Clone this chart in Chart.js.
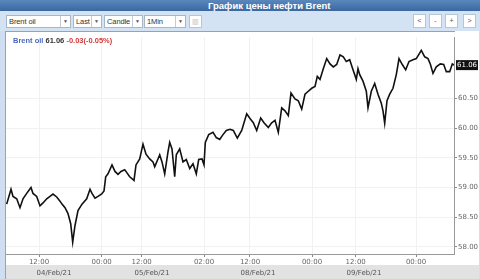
<!DOCTYPE html>
<html>
<head>
<meta charset="utf-8">
<script src="https://cdn.jsdelivr.net/npm/chart.js@4/dist/chart.umd.min.js"></script>
<style>
  html, body { margin: 0; padding: 0; }
  body { width: 480px; height: 279px; overflow: hidden; background: #cfdff1; position: relative;
         font-family: "Liberation Sans", Arial, sans-serif; }
  #title { position: absolute; left: 0; top: 0; width: 480px; height: 11px;
           background: linear-gradient(#5a88bd, #3a689f); color: #fff; font-weight: bold;
           font-size: 9.5px; line-height: 11px; }
  #title span { position: absolute; left: 208px; white-space: nowrap; }
  #bar { position: absolute; left: 0; top: 11px; width: 480px; height: 20px; background: #d3e3f4; }
  .sel { position: absolute; top: 4px; height: 13px; background: #fff; border: 1px solid #a9b6c4;
         font-size: 7.5px; line-height: 12px; color: #333; box-sizing: border-box; padding-left: 2px;
         letter-spacing: -0.1px; white-space: nowrap; }
  .sel i { position: absolute; right: 0; top: 0; height: 11px; width: 9px; border-left: 1px solid #c3ccd6;
           background: #fff; font-style: normal; font-size: 5px; text-align: center; line-height: 11px; color: #555; }
  .btn { position: absolute; top: 3px; height: 14px; width: 13px; background: #fff; border: 1px solid #b9c5d2;
         box-sizing: border-box; font-size: 7px; line-height: 12px; text-align: center; color: #555; }
  #frame { position: absolute; left: 5px; top: 31px; width: 473px; height: 248px; background: #fff;
           border-left: 1px solid #9aa3ad; }
  #topline { position: absolute; left: 0; top: 0; width: 449px; height: 1px; background: #9aa3ad; }
  #band { position: absolute; left: 0; top: 234px; width: 473px; height: 14px; background: #e2e2e2; }
  #wrap { position: absolute; left: 0; top: 1px; width: 473px; height: 247px; }
  #info { position: absolute; left: 7px; top: 5px; font-size: 7.5px; font-weight: bold; white-space: nowrap; }
</style>
</head>
<body>
<div id="title"><span>График цены нефти Brent</span></div>
<div id="bar">
  <div class="sel" style="left:6px;width:65px">Brent oil<i>▼</i></div>
  <div class="sel" style="left:73px;width:29px">Last<i>▼</i></div>
  <div class="sel" style="left:104px;width:39px">Candle<i>▼</i></div>
  <div class="sel" style="left:144px;width:42px">1Min<i>▼</i></div>
  <div class="btn" style="left:189px;top:4px;height:13px;color:#bbb">▥</div>
  <div class="btn" style="left:413px">&lt;</div>
  <div class="btn" style="left:429px">-</div>
  <div class="btn" style="left:445px">+</div>
  <div class="btn" style="left:463px">&gt;</div>
</div>
<div id="frame">
  <div id="band"></div>
  <div id="wrap"><canvas id="c"></canvas></div>
  <div id="topline"></div>
  <div id="info"><span style="color:#4a68c0">Brent oil</span> <span style="color:#333">61.06</span> <span style="color:#d23a3a">-0.03(-0.05%)</span></div>
</div>
<script>
// bar position in the feed (gaps removed) and price
const slots = [
  0.7, 5, 7, 10.7, 14, 17, 20.7, 25, 27, 30.7, 34, 37,
  40.7, 44, 47, 50.7, 54, 56, 59, 62, 64.7, 66.7, 69, 72,
  76, 80.7, 84, 86, 89, 92, 95.7, 98, 99.7, 102, 106, 109,
  112, 115, 118.7, 123.7, 128, 130, 133.7, 137, 140, 143.7, 147, 148.7,
  152, 153.7, 156, 158.7, 162, 163.7, 166, 168.7, 170.3, 173.7, 177, 180.3,
  183.7, 187, 190.3, 192.7, 196, 198, 199.3, 202.7, 207, 210.3, 213.7, 217,
  220.3, 224, 227.3, 231.3, 235.7, 240.7, 244, 247.3, 250.7, 254.7, 258, 262.3,
  265.7, 269, 272.3, 275.7, 279, 282.3, 285, 289, 292.3, 295.7, 299, 302.3,
  305.7, 309, 311.3, 314, 317.3, 320.7, 324, 327.3, 330.7, 334, 337.3, 340.3,
  343.7, 347, 350.3, 352, 353.7, 357, 360.3, 362, 365.3, 368.7, 372, 375.3,
  377, 378.7, 381, 383.7, 387, 390.3, 393, 396.3, 399.7, 403, 407, 410.3,
  415.3, 418.7, 422, 424.3, 427, 430.3, 434.3, 437.7, 440.3, 443.7, 446.3, 448.5
];
const prices = [
  58.72, 58.97, 58.85, 58.81, 58.66, 58.81, 58.90, 59.00, 58.90, 58.85, 58.69, 58.74,
  58.81, 58.85, 58.89, 58.84, 58.77, 58.72, 58.66, 58.56, 58.39, 58.08, 58.36, 58.61,
  58.72, 58.81, 58.97, 58.90, 58.82, 58.85, 58.89, 58.94, 59.18, 59.23, 59.38, 59.27,
  59.22, 59.27, 59.30, 59.18, 59.12, 59.38, 59.48, 59.73, 59.56, 59.48, 59.43, 59.35,
  59.48, 59.55, 59.43, 59.23, 59.60, 59.76, 59.65, 59.18, 59.55, 59.65, 59.43, 59.47,
  59.32, 59.40, 59.23, 59.47, 59.48, 59.38, 59.76, 59.89, 59.93, 59.84, 59.81, 59.89,
  59.96, 59.98, 59.96, 59.83, 59.96, 60.24, 60.16, 60.09, 59.96, 60.17, 60.09, 60.01,
  60.09, 60.13, 59.93, 60.34, 60.29, 60.21, 60.59, 60.49, 60.46, 60.32, 60.57, 60.62,
  60.67, 60.70, 60.87, 60.82, 61.00, 61.17, 61.08, 61.03, 61.07, 61.23, 61.20, 61.12,
  61.15, 60.98, 60.82, 61.00, 60.90, 60.79, 60.62, 60.34, 60.62, 60.75, 60.57, 60.42,
  60.29, 60.08, 60.46, 60.57, 60.67, 60.90, 61.17, 61.07, 60.98, 61.12, 61.15, 61.17,
  61.31, 61.20, 61.17, 61.08, 60.92, 61.03, 61.08, 61.07, 60.95, 60.95, 61.08, 61.06
];
const timeTicks = [33, 95.7, 135.7, 198, 244, 306, 349.7, 410];
const timeLabels = ['12:00', '00:00', '12:00', '02:00', '12:00', '00:00', '12:00', '00:00'];
const dayTicks = [48, 146, 252, 358];
const dayLabels = ['04/Feb/21', '05/Feb/21', '08/Feb/21', '09/Feb/21'];
const priceTicks = [58.0, 58.5, 59.0, 59.5, 60.0, 60.5];
const lastPrice = 61.06;

const tickFont = { family: 'DejaVu Sans', size: 7 };

const lastBox = {
  id: 'lastBox',
  afterDraw(chart) {
    const { ctx, chartArea } = chart;
    const y = chart.scales.y.getPixelForValue(lastPrice);
    ctx.save();
    ctx.fillStyle = '#111';
    ctx.fillRect(chartArea.right + 2, y - 5, 22, 10);
    ctx.fillStyle = '#fff';
    ctx.font = '7px DejaVu Sans';
    ctx.textBaseline = 'middle';
    ctx.fillText(lastPrice.toFixed(2), chartArea.right + 3, y);
    ctx.restore();
  }
};

new Chart(document.getElementById('c'), {
  type: 'line',
  data: {
    datasets: [{
      data: slots.map((s, i) => ({ x: s, y: prices[i] })),
      borderColor: '#111',
      borderWidth: 1.6,
      pointRadius: 0,
      tension: 0
    }]
  },
  options: {
    responsive: true,
    maintainAspectRatio: false,
    animation: false,
    layout: { padding: { top: 1, left: 0, right: 0, bottom: 0 } },
    plugins: { legend: { display: false }, tooltip: { enabled: false } },
    scales: {
      x: {
        type: 'linear', min: 0, max: 448,
        afterBuildTicks: s => { s.ticks = timeTicks.map(v => ({ value: v })); },
        afterFit: s => { s.height = 12; },
        ticks: { autoSkip: false, maxRotation: 0, padding: 1, color: '#666', font: tickFont,
                 callback: (v, i) => timeLabels[i] },
        grid: { color: '#f1f1f1', tickColor: '#888', tickLength: 3 },
        border: { color: '#999' }
      },
      x2: {
        type: 'linear', position: 'bottom', min: 0, max: 448,
        afterBuildTicks: s => { s.ticks = dayTicks.map(v => ({ value: v })); },
        afterFit: s => { s.height = 13; },
        ticks: { autoSkip: false, maxRotation: 0, padding: 3, color: '#555', font: tickFont,
                 callback: (v, i) => dayLabels[i] },
        grid: { display: false, drawTicks: false },
        border: { display: false }
      },
      y: {
        position: 'right', min: 57.88, max: 61.53,
        afterBuildTicks: s => { s.ticks = priceTicks.map(v => ({ value: v })); },
        afterFit: s => { s.width = 25; },
        ticks: { padding: 1, color: '#666', font: tickFont, callback: v => v.toFixed(2) },
        grid: { color: '#f1f1f1', tickColor: '#888', tickLength: 3 },
        border: { color: '#999' }
      }
    }
  },
  plugins: [lastBox]
});
</script>
</body>
</html>
